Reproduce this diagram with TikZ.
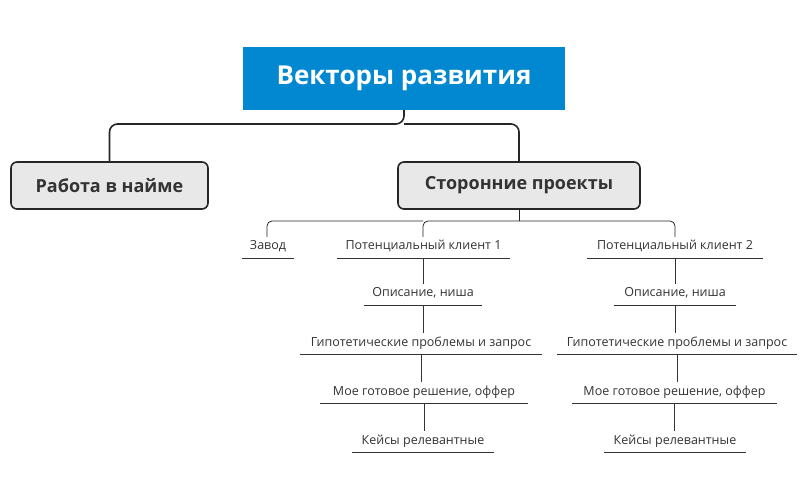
\documentclass[tikz,border=0pt]{standalone}
\usepackage{fontspec}
\setmainfont{Open Sans}
\begin{document}
\begin{tikzpicture}[x=1pt,y=-1pt,
  big/.style={draw=black!85,line width=1.6pt,rounded corners=6pt,fill=black!9,font=\fontsize{18}{20}\selectfont\bfseries,text=black!80},
  lbl/.style={font=\fontsize{12.5}{14}\selectfont,text=black!80,anchor=base},
  ul/.style={draw=black!80,line width=0.8pt},
  con/.style={draw=black!85,line width=0.8pt,rounded corners=5pt},
  bcon/.style={draw=black!85,line width=1.6pt,rounded corners=8pt}]
\useasboundingbox (0,0) rectangle (807,500);
\node[fill={rgb,255:red,2;green,136;blue,209},minimum width=322pt,minimum height=63pt,text=white,font=\fontsize{26}{30}\selectfont\bfseries] (top) at (404,78.5) {Векторы развития};
\node[big,minimum width=197pt,minimum height=47pt] (rab) at (109.5,185.5) {Работа в найме};
\node[big,minimum width=242pt,minimum height=47pt] (sto) at (519,185.5) {Сторонние проекты};
\coordinate (tb) at (404,124);
\draw[bcon] (top.south) -- (tb) -| (rab.north);
\draw[bcon] (tb) -| (sto.north);
\coordinate (sb) at (519,221);
\def\ulnode#1#2#3#4#5{\node[lbl] (#1) at ({(#2+#3)/2},#4-8) {#5};
  \coordinate (#1l) at (#2,#4); \coordinate (#1r) at (#3,#4); \coordinate (#1c) at ({(#2+#3)/2},#4);
  \draw[ul] (#1l) -- (#1r);}
\ulnode{zav}{242}{294}{258}{Завод}
\ulnode{pa}{337}{510}{258}{Потенциальный клиент 1}
\ulnode{pb}{587}{763}{258}{Потенциальный клиент 2}
\ulnode{oa}{364}{482}{305}{Описание, ниша}
\ulnode{ob}{614}{736}{305}{Описание, ниша}
\ulnode{ga}{300}{542}{354}{Гипотетические проблемы и запрос}
\ulnode{gb}{557}{797}{354}{Гипотетические проблемы и запрос}
\ulnode{ma}{320}{528}{403}{Мое готовое решение, оффер}
\ulnode{mb}{572}{777}{403}{Мое готовое решение, оффер}
\ulnode{ka}{352}{494}{452}{Кейсы релевантные}
\ulnode{kb}{604}{746}{452}{Кейсы релевантные}
\draw[con] (sto.south) -- (sb);
\draw[con] (sb) -- (423,221) -- (423,237);
\draw[con] (423,221) -- (267,221) -- (267,237);
\draw[con] (sb) -- (675,221) -- (675,237);
\foreach \a/\b in {pa/oa,oa/ga,ga/ma,ma/ka,pb/ob,ob/gb,gb/mb,mb/kb}
  \draw[ul] (\a c) -- ([yshift=21pt]\a c |- \b c);
\end{tikzpicture}
\end{document}
